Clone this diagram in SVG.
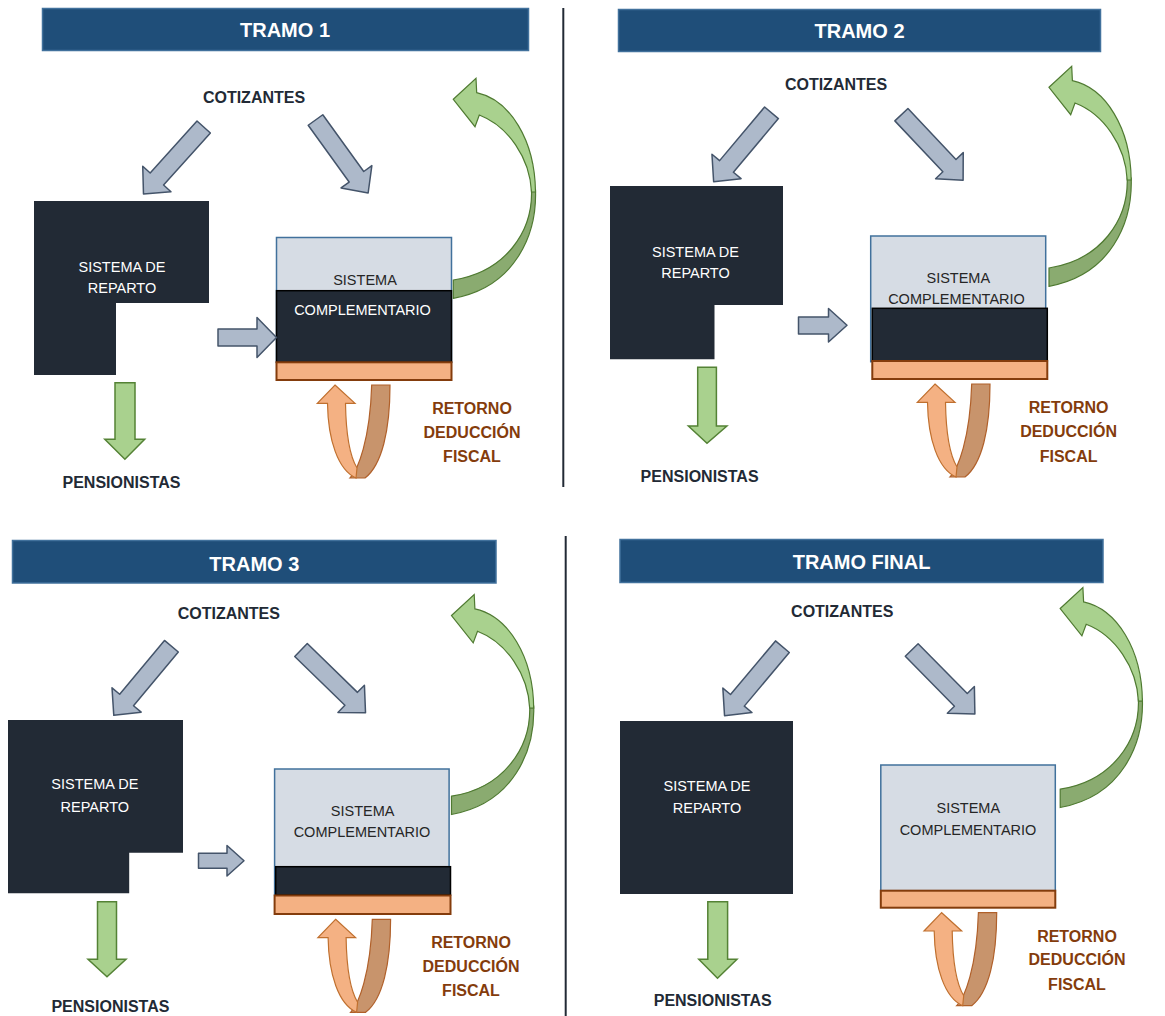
<svg xmlns="http://www.w3.org/2000/svg" xmlns:xlink="http://www.w3.org/1999/xlink" width="1165" height="1016" viewBox="0 0 1165 1016">
<style>
text{font-family:"Liberation Sans",Arial,sans-serif}
.hdr{fill:#1f4e79;stroke:#41719c;stroke-width:1.5}
.ht{fill:#fff;font-size:20px;font-weight:bold;text-anchor:middle}
.lbl{fill:#222a35;font-size:16px;font-weight:bold;text-anchor:middle}
.ret{fill:#843c0c;font-size:16px;font-weight:bold;text-anchor:middle}
.rep{fill:#222a35}
.wt{fill:#fff;font-size:14.5px;text-anchor:middle}
.dt{fill:#262626;font-size:14.5px;text-anchor:middle}
.lite{fill:#d6dce4;stroke:#41719c;stroke-width:1.5}
.dark{fill:#222a35;stroke:#000;stroke-width:1.5}
.org{fill:#f4b183;stroke:#843c0c;stroke-width:2}
.gray{fill:#adb9ca;stroke:#44546a;stroke-width:1.5;stroke-linejoin:round}
.gdown{fill:#a9d18e;stroke:#548235;stroke-width:1.5}
.div{stroke:#222a35;stroke-width:2}
</style>
<defs>
<path id="ga" class="gray" d="M0,-9 L70,-9 L70,-19 L90,0 L70,19 L70,9 L0,9 Z"/>
<g id="garc">
<path fill="#8aab70" stroke="#4f7a31" stroke-width="1.2" d="M535.5,190 C537,235 515,287 453.3,298.3 L453.3,280 C505,272 533,232 531.5,190 Z"/>
<path fill="#a9d18e" stroke="#4f7a31" stroke-width="1.2" d="M453.3,99.3 L476,78.3 L476.7,92.7 C510,100 535,140 535.5,192 L531.5,192 C530,158 508,126 479.3,115 L475,126.7 Z"/>
</g>
<g id="ouarr">
<path fill="#c8946c" stroke="#b0602a" stroke-width="1.2" d="M371.7,385 L390,385 C390,430 382,465 365,478 L350,478 C358,470 370,440 371.7,385 Z"/>
<path fill="#f4b183" stroke="#c0702f" stroke-width="1.2" d="M335,385 L355,403.3 L345.5,403.3 C346,435 349,455 357,468 L356,478 C338,470 328,440 327.5,403.3 L317.3,403.3 Z"/>
</g>
</defs>
<rect width="1165" height="1016" fill="#fff"/>
<line class="div" x1="563.3" y1="8" x2="563.3" y2="487"/>
<line class="div" x1="565.7" y1="536" x2="565.7" y2="1016"/>

<!-- PANEL 1 -->
<g id="p1-header"><rect class="hdr" x="42.5" y="8.5" width="486" height="42"/><text class="ht" x="285" y="37">TRAMO 1</text></g>
<g id="p1-cotizantes"><text class="lbl" x="254" y="103">COTIZANTES</text></g>
<g id="p1-reparto"><path class="rep" d="M34,201 H209 V303 H116 V375 H34 Z"/><text class="wt" x="122" y="271.7">SISTEMA DE</text><text class="wt" x="122" y="293">REPARTO</text></g>
<g id="p1-complementario"><rect class="lite" x="276.5" y="237.5" width="175" height="125"/><rect class="dark" x="276.5" y="290.7" width="175" height="71.6"/><rect class="org" x="276.5" y="362.3" width="175" height="17.7"/><text class="dt" x="365" y="285">SISTEMA</text><text class="wt" x="362.5" y="315">COMPLEMENTARIO</text></g>
<g id="p1-pensionistas"><text class="lbl" x="121.5" y="488.3">PENSIONISTAS</text></g>
<g id="p1-retorno"><text class="ret" x="472" y="414">RETORNO</text><text class="ret" x="472" y="438">DEDUCCIÓN</text><text class="ret" x="472" y="462">FISCAL</text></g>

<!-- PANEL 2 -->
<g id="p2-header"><rect class="hdr" x="618.5" y="9.5" width="482" height="42"/><text class="ht" x="859.5" y="37.5">TRAMO 2</text></g>
<g id="p2-cotizantes"><text class="lbl" x="836" y="90">COTIZANTES</text></g>
<g id="p2-reparto"><path class="rep" d="M610,186 H783 V305 H714.5 V359.3 H610 Z"/><text class="wt" x="695.5" y="256.7">SISTEMA DE</text><text class="wt" x="695.5" y="278.3">REPARTO</text></g>
<g id="p2-complementario"><rect class="lite" x="870.7" y="236" width="175" height="125.7"/><text class="dt" x="958.3" y="283.3">SISTEMA</text><text class="dt" x="956.5" y="303.5">COMPLEMENTARIO</text><rect class="dark" x="872.3" y="308.3" width="175" height="52.7"/><rect class="org" x="872.3" y="361" width="175" height="18"/></g>
<g id="p2-pensionistas"><text class="lbl" x="699.6" y="481.7">PENSIONISTAS</text></g>
<g id="p2-retorno"><text class="ret" x="1068.6" y="413.3">RETORNO</text><text class="ret" x="1068.6" y="437.3">DEDUCCIÓN</text><text class="ret" x="1068.6" y="461.7">FISCAL</text></g>

<!-- PANEL 3 -->
<g id="p3-header"><rect class="hdr" x="12.5" y="540.5" width="483.5" height="42.5"/><text class="ht" x="254.3" y="570.5">TRAMO 3</text></g>
<g id="p3-cotizantes"><text class="lbl" x="228.8" y="619">COTIZANTES</text></g>
<g id="p3-reparto"><path class="rep" d="M8,720 H183 V852.7 H129.2 V893.3 H8 Z"/><text class="wt" x="94.8" y="789.3">SISTEMA DE</text><text class="wt" x="94.8" y="811.7">REPARTO</text></g>
<g id="p3-complementario"><rect class="lite" x="274.6" y="769" width="174.5" height="126"/><text class="dt" x="362.7" y="815.7">SISTEMA</text><text class="dt" x="362" y="837.3">COMPLEMENTARIO</text><rect class="dark" x="275.7" y="866.7" width="174.8" height="28.3"/><rect class="org" x="274.6" y="895.5" width="175.9" height="18.5"/></g>
<g id="p3-pensionistas"><text class="lbl" x="110.4" y="1011.7">PENSIONISTAS</text></g>
<g id="p3-retorno"><text class="ret" x="471" y="947.7">RETORNO</text><text class="ret" x="471" y="971.7">DEDUCCIÓN</text><text class="ret" x="471" y="995.7">FISCAL</text></g>

<!-- PANEL 4 -->
<g id="p4-header"><rect class="hdr" x="620" y="539.5" width="483" height="43"/><text class="ht" x="861.6" y="569">TRAMO FINAL</text></g>
<g id="p4-cotizantes"><text class="lbl" x="842.2" y="617.3">COTIZANTES</text></g>
<g id="p4-reparto"><rect class="rep" x="620" y="721" width="173" height="173"/><text class="wt" x="707" y="790.7">SISTEMA DE</text><text class="wt" x="707" y="812.7">REPARTO</text></g>
<g id="p4-complementario"><rect class="lite" x="880.8" y="765" width="174.5" height="125.7"/><text class="dt" x="968.3" y="812.7">SISTEMA</text><text class="dt" x="968" y="835">COMPLEMENTARIO</text><rect class="org" x="880.8" y="890.7" width="174.5" height="17"/></g>
<g id="p4-pensionistas"><text class="lbl" x="712.7" y="1006">PENSIONISTAS</text></g>
<g id="p4-retorno"><text class="ret" x="1077" y="941.7">RETORNO</text><text class="ret" x="1077" y="965">DEDUCCIÓN</text><text class="ret" x="1077" y="990">FISCAL</text></g>

<!-- CONNECTORS -->
<g id="connectors">
<use xlink:href="#ga" href="#ga" transform="translate(203.7,127) rotate(132)"/>
<use xlink:href="#ga" href="#ga" transform="translate(315.5,120) rotate(54.2)"/>
<path class="gray" d="M218,329 L257,329 L257,317.5 L276.5,337.5 L257,357.5 L257,346 L218,346 Z"/>
<path class="gdown" d="M115,382.7 H135 V439.3 H144.7 L124.9,459.3 L104.8,439.3 H115 Z"/>
<use xlink:href="#garc" href="#garc"/>
<use xlink:href="#ouarr" href="#ouarr"/>

<use xlink:href="#ga" href="#ga" transform="translate(771.5,112.8) rotate(130)"/>
<use xlink:href="#ga" href="#ga" transform="translate(901.4,114.7) rotate(46.7)"/>
<path class="gray" d="M798.5,317 L828.5,317 L828.5,308.5 L847,325.3 L828.5,342 L828.5,334 L798.5,334 Z"/>
<path class="gdown" d="M697.7,367.3 H716.4 V426 H726.9 L707,443.3 L688.4,426 H697.7 Z"/>
<use xlink:href="#garc" href="#garc" transform="translate(595.7,-12)"/>
<use xlink:href="#ouarr" href="#ouarr" transform="translate(600,-1)"/>

<use xlink:href="#ga" href="#ga" transform="translate(171.4,646.2) rotate(129.8)"/>
<use xlink:href="#ga" href="#ga" transform="translate(301,650) rotate(44.2)"/>
<path class="gray" d="M198.5,853.3 L227,853.3 L227,845.5 L244,860.8 L227,876 L227,868.3 L198.5,868.3 Z"/>
<path class="gdown" d="M97.5,901.7 H116.5 V959.3 H126 L107,976.7 L88,959.3 H97.5 Z"/>
<use xlink:href="#garc" href="#garc" transform="translate(-1.8,516.2)"/>
<use xlink:href="#ouarr" href="#ouarr" transform="translate(0.6,534.3)"/>

<use xlink:href="#ga" href="#ga" transform="translate(782.4,646.7) rotate(130)"/>
<use xlink:href="#ga" href="#ga" transform="translate(911.7,650) rotate(45.4)"/>
<path class="gdown" d="M707.8,901.7 H727.6 V959.3 H737 L717.5,978.3 L698.8,959.3 H707.8 Z"/>
<use xlink:href="#garc" href="#garc" transform="translate(606.9,509.2)"/>
<use xlink:href="#ouarr" href="#ouarr" transform="translate(606.7,527.7)"/>
</g>
</svg>
